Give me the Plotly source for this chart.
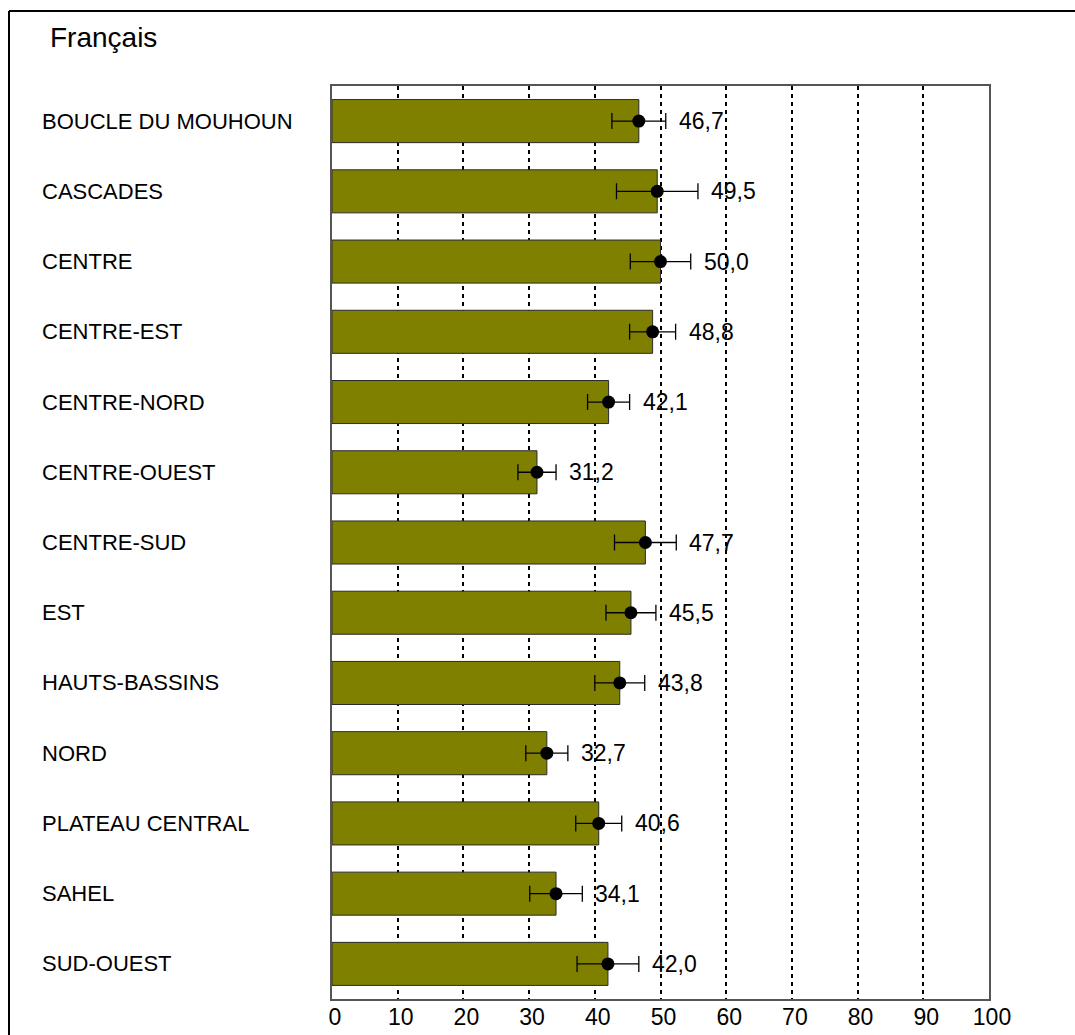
import plotly.graph_objects as go

# Regional shares (%) with confidence half-widths
regions = [
    "BOUCLE DU MOUHOUN", "CASCADES", "CENTRE", "CENTRE-EST", "CENTRE-NORD",
    "CENTRE-OUEST", "CENTRE-SUD", "EST", "HAUTS-BASSINS", "NORD",
    "PLATEAU CENTRAL", "SAHEL", "SUD-OUEST",
]
values = [46.7, 49.5, 50.0, 48.8, 42.1, 31.2, 47.7, 45.5, 43.8, 32.7, 40.6, 34.1, 42.0]
errors = [4.1, 6.2, 4.6, 3.5, 3.2, 2.9, 4.7, 3.8, 3.8, 3.2, 3.5, 4.0, 4.7]
x_ticks = [0, 10, 20, 30, 40, 50, 60, 70, 80, 90, 100]
title_text = "Français"

FONT = "Liberation Sans, Arial, sans-serif"
W, H = 1075, 1035
L, R, T, B = 332, 86, 86, 36
PW, PH = W - L - R, H - T - B


def px_x(px):
    return (px - L) / PW


def px_y(py):
    return (H - B - py) / PH


fig = go.Figure()

fig.add_trace(go.Bar(
    x=values, y=regions, orientation="h",
    marker=dict(color="#808000", line=dict(color="#2a2a2a", width=1)),
    hoverinfo="skip", showlegend=False,
))

fig.add_trace(go.Scatter(
    x=values, y=regions, mode="markers",
    marker=dict(color="black", size=13),
    error_x=dict(type="data", array=errors, color="black", thickness=1.3, width=8),
    showlegend=False,
))

annotations = []
for reg, v, e in zip(regions, values, errors):
    annotations.append(dict(
        x=v + e, y=reg, xref="x", yref="y", xanchor="left", yanchor="middle",
        xshift=11, text=f"{v:.1f}".replace(".", ","), showarrow=False,
        font=dict(family=FONT, size=23, color="black"),
    ))
    annotations.append(dict(
        x=px_x(40), y=reg, xref="paper", yref="y", xanchor="left", yanchor="middle",
        text=reg, showarrow=False,
        font=dict(family=FONT, size=22, color="black"),
    ))

annotations.append(dict(
    x=px_x(48), y=px_y(38), xref="paper", yref="paper", xanchor="left", yanchor="middle",
    text=title_text, showarrow=False,
    font=dict(family=FONT, size=28, color="black"),
))

# outer frame: top and left edges
shapes = [
    dict(type="line", xref="paper", yref="paper",
         x0=px_x(9), x1=px_x(W + 5), y0=px_y(11), y1=px_y(11),
         line=dict(color="black", width=2)),
    dict(type="line", xref="paper", yref="paper",
         x0=px_x(9), x1=px_x(9), y0=px_y(11), y1=px_y(H + 5),
         line=dict(color="black", width=2)),
]

fig.update_layout(
    width=W, height=H,
    margin=dict(l=L, r=R, t=T, b=B, pad=0, autoexpand=False),
    paper_bgcolor="white", plot_bgcolor="white",
    bargap=0.387,
    font=dict(family=FONT, color="black"),
    annotations=annotations, shapes=shapes,
    xaxis=dict(
        range=[0, 100], tickvals=x_ticks, ticktext=[str(t) for t in x_ticks],
        showgrid=True, gridcolor="black", gridwidth=1.5, griddash="4px,4px",
        zeroline=False, showline=True, linecolor="#555555", linewidth=1.5, mirror=True,
        ticks="", tickfont=dict(family=FONT, size=23, color="black"),
        ticklabelshift=3, ticklabelstandoff=-3,
        automargin=False, fixedrange=True,
    ),
    yaxis=dict(
        categoryorder="array", categoryarray=regions, range=[12.5, -0.5],
        showticklabels=False, showgrid=False, zeroline=False,
        showline=True, linecolor="#555555", linewidth=1.5, mirror=True, ticks="",
        automargin=False, fixedrange=True,
    ),
)

fig.write_html("out.html")
